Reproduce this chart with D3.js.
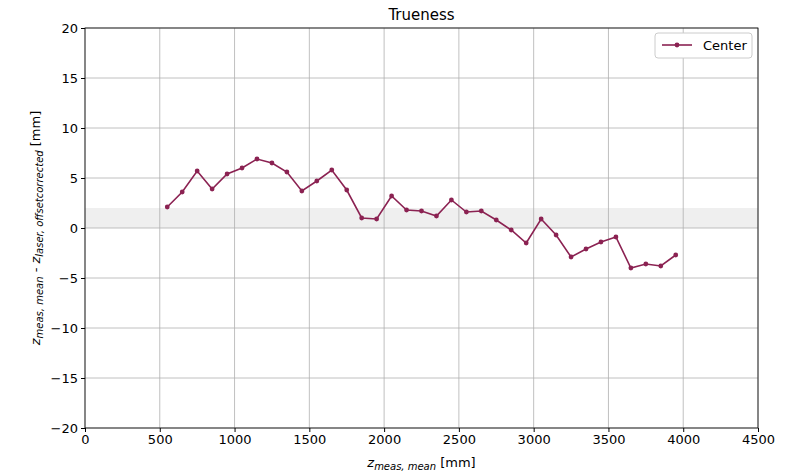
<!DOCTYPE html>
<html><head><meta charset="utf-8">
<script src="https://cdn.jsdelivr.net/npm/d3@7"></script>
<style>body{margin:0;background:#fff;font-family:"DejaVu Sans",sans-serif}</style>
</head><body><svg id="c" width="795" height="473"></svg>
<script>
const xs=[550,650,750,850,950,1050,1150,1250,1350,1450,1550,1650,1750,1850,1950,2050,2150,2250,2350,2450,2550,2650,2750,2850,2950,3050,3150,3250,3350,3450,3550,3650,3750,3850,3950];
const ys=[2.1,3.6,5.7,3.9,5.4,6.0,6.9,6.5,5.6,3.7,4.7,5.8,3.8,1.0,0.9,3.2,1.8,1.7,1.2,2.8,1.6,1.7,0.8,-0.2,-1.5,0.9,-0.7,-2.9,-2.1,-1.4,-0.9,-4.0,-3.6,-3.8,-2.7];
const xTicks=[0,500,1000,1500,2000,2500,3000,3500,4000,4500];
const yTicks=[-20,-15,-10,-5,0,5,10,15,20];
const band=[0,2];
const col="#8b2252";
const svg=d3.select("#c");
const L=85,R=758,T=28,B=428;
const x=d3.scaleLinear().domain([0,4500]).range([L,R]);
const y=d3.scaleLinear().domain([-20,20]).range([B,T]);
svg.append("rect").attr("x",L).attr("width",R-L).attr("y",y(band[1])).attr("height",y(band[0])-y(band[1])).attr("fill","#efefef");
const g=svg.append("g").attr("stroke","#b0b0b0").attr("stroke-width",0.8);
xTicks.forEach(t=>g.append("line").attr("x1",x(t)).attr("x2",x(t)).attr("y1",T).attr("y2",B));
yTicks.forEach(t=>g.append("line").attr("x1",L).attr("x2",R).attr("y1",y(t)).attr("y2",y(t)));
const ax=svg.append("g").attr("transform",`translate(0,${B})`).call(d3.axisBottom(x).tickValues(xTicks).tickFormat(d3.format("d")).tickSize(4).tickPadding(3));
const ay=svg.append("g").attr("transform",`translate(${L},0)`).call(d3.axisLeft(y).tickValues(yTicks).tickFormat(d=>d<0?"−"+(-d):d).tickSize(4).tickPadding(3));
[ax,ay].forEach(a=>{a.selectAll("text").attr("font-size",13).attr("font-family","DejaVu Sans").attr("fill","#000");a.select(".domain").remove();});
svg.append("rect").attr("x",L).attr("y",T).attr("width",R-L).attr("height",B-T).attr("fill","none").attr("stroke","#000").attr("stroke-width",0.8);
const data=xs.map((v,i)=>[v,ys[i]]);
svg.append("path").datum(data).attr("d",d3.line().x(d=>x(d[0])).y(d=>y(d[1]))).attr("fill","none").attr("stroke",col).attr("stroke-width",1.6);
svg.selectAll("circle.p").data(data).join("circle").attr("cx",d=>x(d[0])).attr("cy",d=>y(d[1])).attr("r",2.4).attr("fill",col);
svg.append("text").attr("x",(L+R)/2).attr("y",20).attr("text-anchor","middle").attr("font-size",15).text("Trueness");
const xl=svg.append("text").attr("x",(L+R)/2).attr("y",467).attr("text-anchor","middle").attr("font-size",13);
xl.append("tspan").attr("font-style","italic").text("z");
xl.append("tspan").attr("font-size",10).attr("font-style","italic").attr("dy",3).text("meas, mean");
xl.append("tspan").attr("dy",-3).text(" [mm]");
const yl=svg.append("text").attr("transform",`translate(40,${(T+B)/2}) rotate(-90)`).attr("text-anchor","middle").attr("font-size",13);
yl.append("tspan").attr("font-style","italic").text("z");
yl.append("tspan").attr("font-size",10).attr("font-style","italic").attr("dy",3).text("meas, mean");
yl.append("tspan").attr("dy",-3).text(" - ");
yl.append("tspan").attr("font-style","italic").text("z");
yl.append("tspan").attr("font-size",10).attr("font-style","italic").attr("dy",3).text("laser, offsetcorrected");
yl.append("tspan").attr("dy",-3).text(" [mm]");
const lg=svg.append("g");
lg.append("rect").attr("x",655).attr("y",33).attr("width",97).attr("height",25).attr("rx",3).attr("fill","#fff").attr("stroke","#ccc");
lg.append("line").attr("x1",662).attr("x2",692).attr("y1",45).attr("y2",45).attr("stroke",col).attr("stroke-width",1.6);
lg.append("circle").attr("cx",677).attr("cy",45).attr("r",2.4).attr("fill",col);
lg.append("text").attr("x",703).attr("y",50).attr("font-size",13).text("Center");
</script></body></html>
